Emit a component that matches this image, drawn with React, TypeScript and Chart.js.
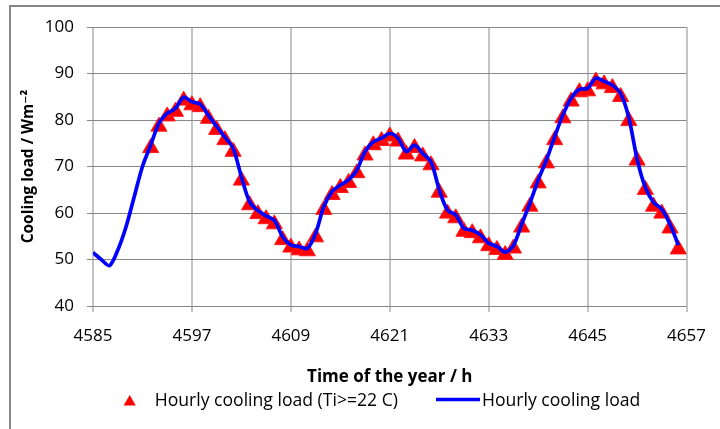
import React, { useEffect, useRef } from "react";
import { Chart, registerables } from "chart.js";

Chart.register(...registerables);

// ---- data ----
const hours = [
  4585, 4586, 4587, 4588, 4589, 4590, 4591, 4592, 4593, 4594, 4595, 4596,
  4597, 4598, 4599, 4600, 4601, 4602, 4603, 4604, 4605, 4606, 4607, 4608,
  4609, 4610, 4611, 4612, 4613, 4614, 4615, 4616, 4617, 4618, 4619, 4620,
  4621, 4622, 4623, 4624, 4625, 4626, 4627, 4628, 4629, 4630, 4631, 4632,
  4633, 4634, 4635, 4636, 4637, 4638, 4639, 4640, 4641, 4642, 4643, 4644,
  4645, 4646, 4647, 4648, 4649, 4650, 4651, 4652, 4653, 4654, 4655, 4656,
];

const hourlyLoad = [
  51.5, 50.0, 48.7, 52.0, 57.0, 63.5, 70.0, 74.6, 79.3, 81.4, 82.5, 84.9,
  83.9, 83.4, 81.0, 78.6, 76.3, 73.9, 67.8, 62.4, 60.5, 59.4, 58.4, 54.9,
  53.1, 52.8, 52.4, 55.6, 61.4, 64.6, 66.0, 67.1, 69.2, 73.2, 75.3, 76.1,
  77.1, 76.1, 73.2, 74.6, 72.8, 71.0, 65.0, 60.6, 59.6, 56.7, 56.3, 55.3,
  53.5, 52.8, 51.6, 53.0, 57.6, 62.1, 67.1, 71.4, 76.4, 81.1, 84.7, 86.6,
  86.8, 89.0, 88.3, 87.5, 85.7, 80.5, 71.6, 65.5, 62.3, 60.8, 57.6, 53.1,
];

const hourlyLoadTi22 = [
  null, null, null, null, null, null, null, 74.0, 78.6, 80.8, 81.8, 84.2,
  83.2, 82.8, 80.3, 77.9, 75.7, 73.2, 67.0, 61.7, 59.8, 58.7, 57.6, 54.2,
  52.6, 52.0, 51.8, 54.8, 60.7, 63.9, 65.4, 66.5, 68.6, 72.4, 74.6, 75.5,
  76.5, 75.4, 72.6, 74.0, 72.2, 70.3, 64.4, 59.9, 58.9, 56.0, 55.7, 54.6,
  52.9, 52.1, 51.0, 52.4, 56.9, 61.4, 66.4, 70.7, 75.7, 80.4, 84.0, 86.0,
  86.2, 88.3, 87.7, 86.9, 85.0, 79.8, 71.3, 65.0, 61.4, 59.9, 56.7, 52.2,
];

const xTicks = [4585, 4597, 4609, 4621, 4633, 4645, 4657];
const yTicks = [40, 50, 60, 70, 80, 90, 100];

const seriesLabels = ["Hourly cooling load (Ti>=22 C)", "Hourly cooling load"];
const xTitle = "Time of the year / h";
const yTitle = "Cooling load / Wm\u207B\u00B2";

const FONT = "'Open Sans', 'DejaVu Sans', sans-serif";

// Excel-style legend drawn below the axis title
const legendPlugin = {
  id: "excelLegend",
  afterDraw(chart: any) {
    const { ctx } = chart;
    const tri = chart.data.datasets[0];
    const line = chart.data.datasets[1];
    ctx.save();
    ctx.font = `17.6px ${FONT}`;
    ctx.textBaseline = "alphabetic";
    ctx.textAlign = "left";
    const w1 = ctx.measureText(tri.label).width;
    const w2 = ctx.measureText(line.label).width;
    const triW = 12;
    const gap1 = 19;
    const gap2 = 38;
    const lineW = 44;
    const gap3 = 2;
    const total = triW + gap1 + w1 + gap2 + lineW + gap3 + w2;
    let x = 382 - total / 2;
    const cy = 402;
    const baseline = 406;
    const r = 7;
    const cx = x + triW / 2;
    ctx.beginPath();
    ctx.moveTo(cx, cy - r);
    ctx.lineTo(cx + r * 0.866, cy + r / 2);
    ctx.lineTo(cx - r * 0.866, cy + r / 2);
    ctx.closePath();
    ctx.fillStyle = tri.pointBackgroundColor;
    ctx.fill();
    x += triW + gap1;
    ctx.fillStyle = "#000";
    ctx.fillText(tri.label, x, baseline);
    x += w1 + gap2;
    ctx.strokeStyle = line.borderColor;
    ctx.lineWidth = 3.5;
    ctx.beginPath();
    ctx.moveTo(x, 399.5);
    ctx.lineTo(x + lineW, 399.5);
    ctx.stroke();
    x += lineW + gap3;
    ctx.fillText(line.label, x, baseline);
    ctx.restore();
  },
};

export default function App() {
  const ref = useRef<HTMLCanvasElement | null>(null);

  useEffect(() => {
    if (!ref.current) return;
    const triData = hours
      .map((h, i) => ({ x: h, y: hourlyLoadTi22[i] }))
      .filter((p) => p.y !== null);
    const lineData = hours.map((h, i) => ({ x: h, y: hourlyLoad[i] }));

    const chart = new Chart(ref.current, {
      type: "line",
      data: {
        datasets: [
          {
            label: seriesLabels[0],
            data: triData as any,
            showLine: false,
            pointStyle: "triangle",
            pointRadius: 9.3,
            pointBackgroundColor: "#ff0000",
            pointBorderColor: "#ff1a1a",
            pointBorderWidth: 1,
            backgroundColor: "#ff0000",
            borderColor: "#ff0000",
            order: 1,
          },
          {
            label: seriesLabels[1],
            data: lineData as any,
            borderColor: "#0000ff",
            backgroundColor: "#0000ff",
            borderWidth: 3.7,
            pointRadius: 0,
            tension: 0.3,
            fill: false,
            order: 0,
          },
        ],
      },
      options: {
        animation: false,
        responsive: false,
        devicePixelRatio: 1,
        events: [],
        layout: { padding: { left: 0, right: 22, top: 27, bottom: 42 } },
        plugins: {
          legend: { display: false },
          tooltip: { enabled: false },
        },
        scales: {
          x: {
            type: "linear",
            min: 4585,
            max: 4657,
            afterBuildTicks: (s: any) => {
              s.ticks = xTicks.map((v) => ({ value: v }));
            },
            afterFit: (s: any) => {
              s.height = 81;
            },
            ticks: {
              callback: (v: any) => String(v),
              padding: 14,
              color: "#000",
              font: { family: FONT, size: 17 },
              maxRotation: 0,
              autoSkip: false,
            },
            grid: { color: "#c4c4c4", lineWidth: 2, tickLength: 6 },
            border: { display: false },
            title: {
              display: true,
              text: xTitle,
              color: "#000",
              font: { family: FONT, size: 17, weight: "bold" },
              padding: { top: 0, bottom: 0 },
            },
          },
          y: {
            min: 40,
            max: 100,
            afterBuildTicks: (s: any) => {
              s.ticks = yTicks.map((v) => ({ value: v }));
            },
            afterFit: (s: any) => {
              s.width = 93;
            },
            ticks: {
              callback: (v: any) => String(v),
              padding: 13,
              color: "#000",
              font: { family: FONT, size: 17 },
              autoSkip: false,
            },
            grid: { color: "#878787", lineWidth: 1, tickLength: 6 },
            border: { display: false },
            title: {
              display: true,
              text: yTitle,
              color: "#000",
              font: { family: FONT, size: 15.5, weight: "bold" },
              padding: { top: 19, bottom: 0 },
            },
          },
        },
      },
      plugins: [legendPlugin],
    });
    return () => chart.destroy();
  }, []);

  return (
    <div
      style={{
        position: "absolute",
        left: 0,
        top: 0,
        width: 720,
        height: 429,
        background: "#fff",
        overflow: "hidden",
      }}
    >
      <canvas
        ref={ref}
        width={720}
        height={429}
        style={{ display: "block", width: 720, height: 429 }}
      />
      <div
        style={{
          position: "absolute",
          left: 9,
          top: 5,
          right: 0,
          bottom: 0,
          borderTop: "2px solid #878787",
          borderLeft: "2px solid #878787",
          pointerEvents: "none",
        }}
      />
    </div>
  );
}
